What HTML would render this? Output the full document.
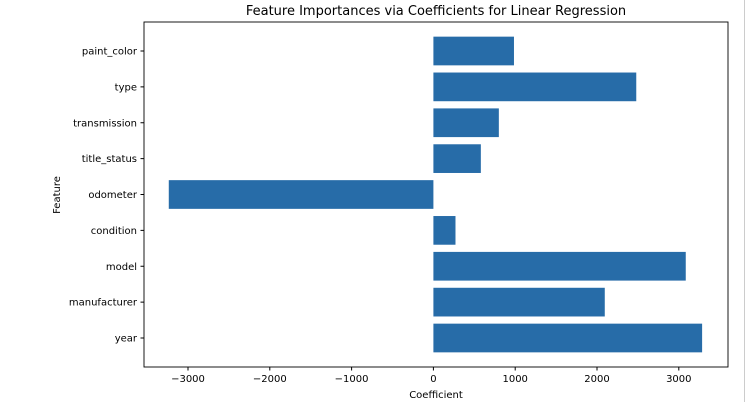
<!DOCTYPE html>
<html><head><meta charset="utf-8"><style>
body{margin:0;background:#fff;font-family:"Liberation Sans","DejaVu Sans",sans-serif;}
svg text{font-family:"DejaVu Sans","Liberation Sans",sans-serif;}
</style></head><body>
<svg id="c" width="747" height="402" xmlns="http://www.w3.org/2000/svg">
<rect x="0" y="0" width="747" height="402" fill="#fff"/>
<line x1="744.5" y1="0" x2="744.5" y2="402" stroke="#ccc"/>
<text x="436" y="15" font-size="13" text-anchor="middle">Feature Importances via Coefficients for Linear Regression</text>
<text x="436" y="398" font-size="10" text-anchor="middle">Coefficient</text>
<text x="60" y="195" font-size="10" text-anchor="middle" transform="rotate(-90 60 195)">Feature</text>
<g id="bars"></g><g id="ax"></g>
</svg>
<script>
const categories=["year","manufacturer","model","condition","odometer","title_status","transmission","type","paint_color"];
const values=[3285,2095,3085,270,-3235,580,800,2480,985];
const xTicks=[-3000,-2000,-1000,0,1000,2000,3000];
const L=144,R=728,T=22,B=367;
const x=v=>433.4+v*0.0818;
const y=i=>338-i*35.875;
const ns="http://www.w3.org/2000/svg";
const bars=document.getElementById('bars'),ax=document.getElementById('ax');
function mk(tag,at,p){const e=document.createElementNS(ns,tag);for(const k in at)e.setAttribute(k,at[k]);p.appendChild(e);return e;}
values.forEach((v,i)=>{
 const r=mk('rect',{x:Math.min(x(0),x(v)),y:y(i)-14.35,width:Math.abs(x(v)-x(0)),height:28.7,fill:'#276ca8'},bars);
 
 
 const t=mk('line',{x1:L-3.5,x2:L,y1:y(i),y2:y(i),stroke:'#000'},ax);
 
 
 const lb=mk('text',{x:L-7,y:y(i)+3.5,'font-size':10,'text-anchor':'end'},ax);
 lb.textContent=categories[i];
 
 
});
xTicks.forEach(v=>{
 const t=mk('line',{x1:x(v),x2:x(v),y1:B,y2:B+3.5,stroke:'#000'},ax);
 
 
 const lb=mk('text',{x:x(v),y:B+15,'font-size':10,'text-anchor':'middle'},ax);
 lb.textContent=v<0?'\u2212'+(-v):String(v);
 
 
});
const f=mk('rect',{x:L,y:T,width:R-L,height:B-T,fill:'none',stroke:'#000','stroke-width':0.9},ax);


</script>
</body></html>
